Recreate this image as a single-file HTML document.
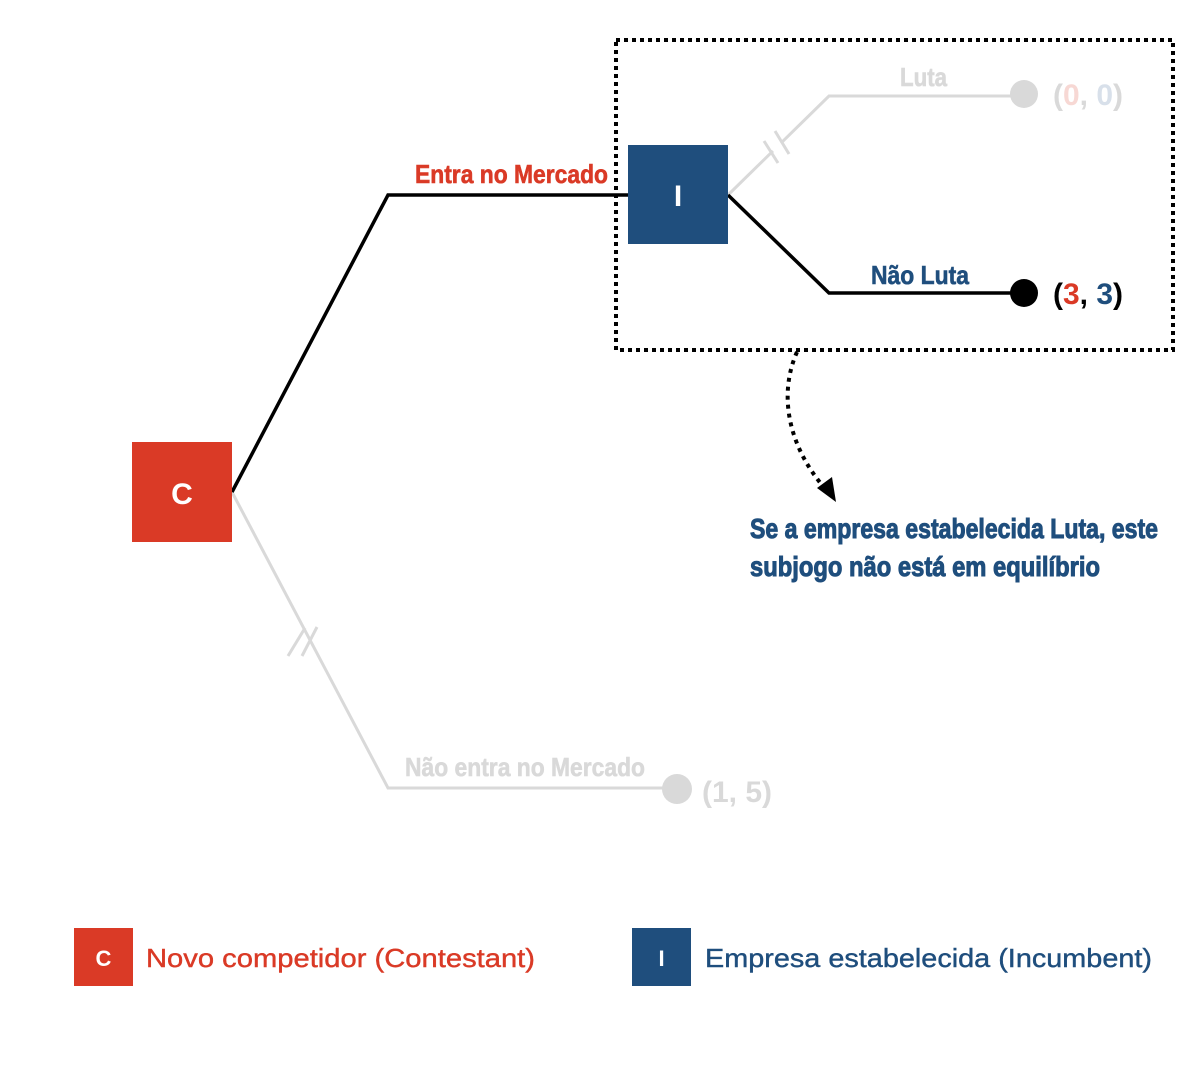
<!DOCTYPE html>
<html><head><meta charset="utf-8"><style>html,body{margin:0;padding:0;background:#fff;}svg{display:block;}</style></head>
<body>
<svg width="1200" height="1080" viewBox="0 0 1200 1080" xmlns="http://www.w3.org/2000/svg" font-family="'Liberation Sans', sans-serif">
<g stroke="#d9d9d9" stroke-width="3" fill="none">
<polyline points="232,492 388,788 677,788"/>
<polyline points="728,195 829,96 1024,96"/>
</g>
<g stroke="#fff" stroke-width="6">
<line x1="296" y1="634" x2="305" y2="651"/>
<line x1="773" y1="151" x2="781" y2="143"/>
</g>
<g stroke="#d9d9d9" stroke-width="3">
<line x1="288" y1="656" x2="305" y2="628"/>
<line x1="302" y1="656" x2="317" y2="627"/>
<line x1="764" y1="141" x2="778" y2="163"/>
<line x1="775" y1="131" x2="789" y2="154"/>
</g>
<circle cx="677" cy="789" r="15" fill="#d9d9d9"/>
<circle cx="1024" cy="94" r="14" fill="#d9d9d9"/>
<g stroke="#000" stroke-width="3.5" fill="none">
<polyline points="232,492 388,195 628,195"/>
<polyline points="728,195 829,293 1024,293"/>
</g>
<circle cx="1024" cy="293" r="14" fill="#000"/>
<rect x="132" y="442" width="100" height="100" fill="#da3a26"/>
<text x="182" y="504" font-size="30" font-weight="bold" fill="#fff" text-anchor="middle">C</text>
<rect x="628" y="145" width="100" height="99" fill="#1f4e7d"/>
<text x="678" y="206" font-size="30" font-weight="bold" fill="#fff" text-anchor="middle">I</text>
<rect x="616" y="40" width="557" height="310" fill="none" stroke="#000" stroke-width="4" stroke-dasharray="4,4"/>
<path d="M797,352 C780,390 785,440 822,485" fill="none" stroke="#000" stroke-width="4" stroke-dasharray="4,5"/>
<polygon points="836,502 817,488 832,477" fill="#000"/>
<g stroke-width="0.6">
<text x="415" y="183" font-size="26" font-weight="bold" fill="#da3a26" stroke="#da3a26" textLength="193" lengthAdjust="spacingAndGlyphs">Entra no Mercado</text>
<text x="871" y="284" font-size="26" font-weight="bold" fill="#1f4e7d" stroke="#1f4e7d" textLength="98" lengthAdjust="spacingAndGlyphs">Não Luta</text>
<text x="900" y="86" font-size="26" font-weight="bold" fill="#d9d9d9" stroke="#d9d9d9" textLength="47" lengthAdjust="spacingAndGlyphs">Luta</text>
<text x="405" y="776" font-size="26" font-weight="bold" fill="#d9d9d9" stroke="#d9d9d9" textLength="240" lengthAdjust="spacingAndGlyphs">Não entra no Mercado</text>
<text x="750" y="538" font-size="28" font-weight="bold" fill="#1f4e7d" stroke="#1f4e7d" stroke-width="1" textLength="408" lengthAdjust="spacingAndGlyphs">Se a empresa estabelecida Luta, este</text>
<text x="750" y="576" font-size="28" font-weight="bold" fill="#1f4e7d" stroke="#1f4e7d" stroke-width="1" textLength="350" lengthAdjust="spacingAndGlyphs">subjogo não está em equilíbrio</text>
</g>
<text x="702" y="802" font-size="30" font-weight="bold" fill="#d9d9d9" textLength="70" lengthAdjust="spacingAndGlyphs">(1, 5)</text>
<text x="1053" y="304" font-size="30" font-weight="bold" fill="#000" textLength="70" lengthAdjust="spacingAndGlyphs">(<tspan fill="#da3a26">3</tspan>, <tspan fill="#1f4e7d">3</tspan>)</text>
<text x="1053" y="105" font-size="30" font-weight="bold" fill="#d9d9d9" textLength="70" lengthAdjust="spacingAndGlyphs">(<tspan fill="#f7d8d4">0</tspan>, <tspan fill="#d8e0ea">0</tspan>)</text>
<rect x="74" y="928" width="59" height="58" fill="#da3a26"/>
<text x="103.5" y="966" font-size="22" font-weight="bold" fill="#fff" text-anchor="middle">C</text>
<text x="146" y="967" font-size="26" fill="#da3a26" stroke="#da3a26" stroke-width="0.4" textLength="389" lengthAdjust="spacingAndGlyphs">Novo competidor (Contestant)</text>
<rect x="632" y="928" width="59" height="58" fill="#1f4e7d"/>
<text x="661.5" y="966" font-size="22" font-weight="bold" fill="#fff" text-anchor="middle">I</text>
<text x="705" y="967" font-size="26" fill="#1f4e7d" stroke="#1f4e7d" stroke-width="0.4" textLength="447" lengthAdjust="spacingAndGlyphs">Empresa estabelecida (Incumbent)</text>
</svg>
</body></html>
